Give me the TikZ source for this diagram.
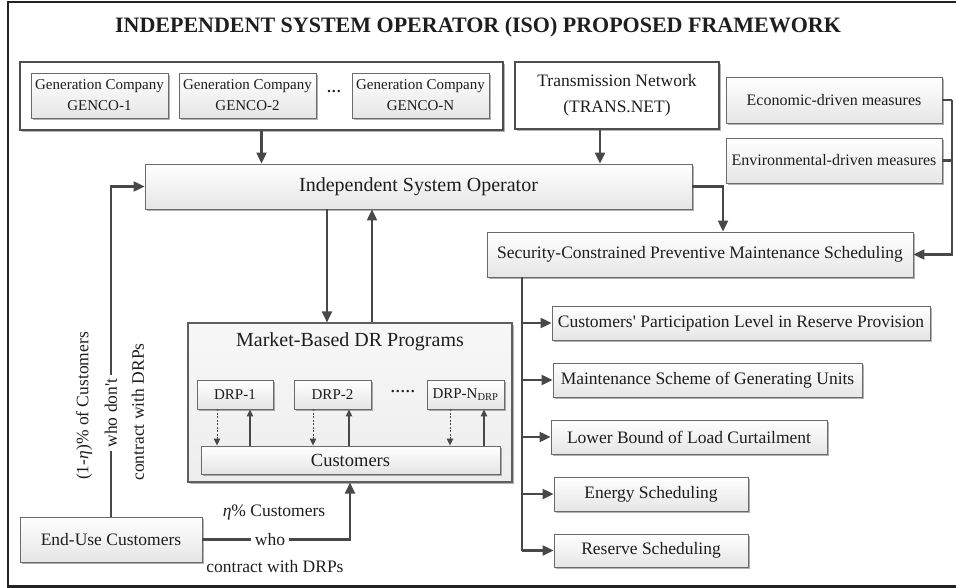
\documentclass[tikz,border=0pt]{standalone}
\usepackage{fontspec}
\setmainfont{Liberation Serif}[Ligatures=TeXOff]
\usetikzlibrary{arrows.meta,shadows}
\definecolor{boxc}{HTML}{6A6A6A}
\definecolor{arrc}{HTML}{484848}
\definecolor{txt}{HTML}{1E1E1E}
\definecolor{framec}{HTML}{222222}
\newcommand{\fsz}[2]{\fontsize{#1}{#2}\selectfont}
\begin{document}
\begin{tikzpicture}[x=1pt,y=-1pt,
  shad/.style={drop shadow={shadow xshift=1.6pt,shadow yshift=-1.6pt,opacity=0.3,fill=black}},
  box/.style={draw=boxc, line width=0.9pt, top color=white, bottom color=gray!20, shad,
              inner sep=0pt, align=center, text=txt},
  whitebox/.style={draw=framec!80, line width=1.1pt, fill=white, shad, inner sep=0pt, align=center, text=txt},
  mbox/.style={draw=boxc!90!black, line width=1.1pt, top color=gray!6, bottom color=gray!14, shad, inner sep=0pt},
  arr/.style={draw=arrc, line width=2.2pt, -{Triangle[length=11pt,width=10pt]}},
  ln/.style={draw=arrc, line width=2.2pt},
  dotarr/.style={draw=arrc, line width=1pt, dash pattern=on 2pt off 1.5pt, -{Triangle[length=7pt,width=6.5pt]}},
  solarr/.style={draw=arrc, line width=1.4pt, -{Triangle[length=7pt,width=6.5pt]}},
  lbl/.style={text=txt, inner sep=1pt, font=\fsz{17.5}{21}},
]
\useasboundingbox (0,0) rectangle (956,588);
% outer frame (right side runs off the picture)
\draw[framec, line width=2.4pt] (960,2) -- (8,2) -- (8,586.5) -- (960,586.5);

% title
\node[anchor=base, text=txt, font=\bfseries\fsz{22}{26}] (title) at (478,33)
  {INDEPENDENT SYSTEM OPERATOR (ISO) PROPOSED FRAMEWORK};

% GENCO group
\node[whitebox, minimum width=483pt, minimum height=68pt] (genco) at (261.5,96) {};
\node[box, minimum width=137pt, minimum height=45pt, font=\fsz{15}{21}] (g1) at (99.5,95.5) {Generation Company\\GENCO-1};
\node[box, minimum width=137pt, minimum height=45pt, font=\fsz{15}{21}] (g2) at (247.5,95.5) {Generation Company\\GENCO-2};
\node[box, minimum width=137pt, minimum height=45pt, font=\fsz{15}{21}] (gN) at (420.5,95.5) {Generation Company\\GENCO-N};
\node[text=txt, font=\bfseries\fsz{15}{18}, inner sep=0pt] (gdots) at (334,93) {···};

% transmission
\node[whitebox, minimum width=204pt, minimum height=67pt, font=\fsz{17.5}{26}] (trans) at (617,95.5) {Transmission Network\\(TRANS.NET)};

% measures
\node[box, minimum width=216pt, minimum height=46pt, font=\fsz{16}{19}] (econ) at (834,100) {Economic-driven measures};
\node[box, minimum width=216pt, minimum height=45pt, font=\fsz{16}{19}] (env) at (834,160.5) {Environmental-driven measures};

% ISO
\node[box, minimum width=547pt, minimum height=45pt, font=\fsz{20}{24}] (iso) at (418.5,186.5) {Independent System Operator};

% SCPMS
\node[box, minimum width=426pt, minimum height=45pt, font=\fsz{17.5}{21}] (scpms) at (700,254.5) {Security-Constrained Preventive Maintenance Scheduling};

% results
\node[box, minimum width=378pt, minimum height=34pt, font=\fsz{17.5}{21}] (r1) at (741,323) {Customers' Participation Level in Reserve Provision};
\node[box, minimum width=309pt, minimum height=34pt, font=\fsz{17.5}{21}] (r2) at (707.5,380) {Maintenance Scheme of Generating Units};
\node[box, minimum width=276pt, minimum height=34pt, font=\fsz{17.5}{21}] (r3) at (689,437) {Lower Bound of Load Curtailment};
\node[box, minimum width=194pt, minimum height=34pt, font=\fsz{17.5}{21}] (r4) at (651,494) {Energy Scheduling};
\node[box, minimum width=194pt, minimum height=33pt, font=\fsz{17.5}{21}] (r5) at (651,550.5) {Reserve Scheduling};

% Market-based DR programs
\node[mbox, minimum width=324pt, minimum height=159pt] (mbdr) at (350,402.5) {};
\node[text=txt, font=\fsz{20}{24}, inner sep=0pt] (mbdrt) at (350,342) {Market-Based DR Programs};
\node[box, minimum width=76pt, minimum height=29pt, font=\fsz{15}{18}] (drp1) at (235,394.5) {DRP-1};
\node[box, minimum width=77pt, minimum height=29pt, font=\fsz{15}{18}] (drp2) at (332.5,394.5) {DRP-2};
\node[box, minimum width=77pt, minimum height=29pt, font=\fsz{15}{18}] (drpN) at (465.5,394.5) {DRP-N\textsubscript{DRP}};
\node[text=txt, font=\bfseries\fsz{15}{18}, inner sep=0pt] (ddots) at (403,393) {·····};
\node[box, minimum width=299pt, minimum height=28pt, font=\fsz{18.5}{22}] (cust) at (350.5,460) {Customers};

% end-use customers
\node[box, minimum width=182pt, minimum height=45pt, font=\fsz{17.5}{21}] (endu) at (111,539.5) {End-Use Customers};

% ---- connectors ----
\draw[arr] (genco.south) -- (genco.south |- iso.north);
\draw[arr] ([xshift=-17pt]trans.south) -- ([xshift=-17pt]trans.south |- iso.north);
\draw[arr] (iso.east) -| ([xshift=23pt]scpms.north);

\coordinate (bus) at (952,100);
\draw[ln] (econ.east) -- (bus);
\draw[ln] (env.east) -- (env.east -| bus);
\draw[arr] (bus) |- (scpms.east);

\draw[arr] ([xshift=-23pt]mbdr.north |- iso.south) -- ([xshift=-23pt]mbdr.north);
\draw[arr] ([xshift=22pt]mbdr.north) -- ([xshift=22pt]mbdr.north |- iso.south);

% tree of results
\draw[ln] ([xshift=-178pt]scpms.south) -- ([xshift=-178pt]scpms.south |- r5.west);
\foreach \r in {r1,r2,r3,r4,r5}{
  \draw[arr] ([xshift=-178pt]scpms.south |- \r.west) -- (\r.west);
}

% DRP <-> customers
\draw[dotarr] ([xshift=-18pt]drp1.south) -- ([xshift=-18pt]drp1.south |- cust.north);
\draw[solarr] ([xshift=15pt]drp1.south |- cust.north) -- ([xshift=15pt]drp1.south);
\draw[dotarr] ([xshift=-19.5pt]drp2.south) -- ([xshift=-19.5pt]drp2.south |- cust.north);
\draw[solarr] ([xshift=16.5pt]drp2.south |- cust.north) -- ([xshift=16.5pt]drp2.south);
\draw[dotarr] ([xshift=-15.5pt]drpN.south) -- ([xshift=-15.5pt]drpN.south |- cust.north);
\draw[solarr] ([xshift=18.5pt]drpN.south |- cust.north) -- ([xshift=18.5pt]drpN.south);

% end-use customers to DR programs
\draw[arr] (endu.east) -| (mbdr.south);
\node[lbl, fill=white, inner xsep=4pt] (who) at (270,540) {who};
\node[lbl] (eta1) at (274,513) {\textit{η}\% Customers};
\node[lbl] (eta2) at (275,567) {contract with DRPs};

% end-use customers to ISO
\draw[arr] (endu.north) |- (iso.west);
\node[lbl, rotate=90] (neta1) at (84,406) {(1-\textit{η})\% of Customers};
\node[lbl, rotate=90, fill=white, inner xsep=4pt] (neta2) at (111,413) {who don't};
\node[lbl, rotate=90] (neta3) at (138,412) {contract with DRPs};
\end{tikzpicture}
\end{document}
